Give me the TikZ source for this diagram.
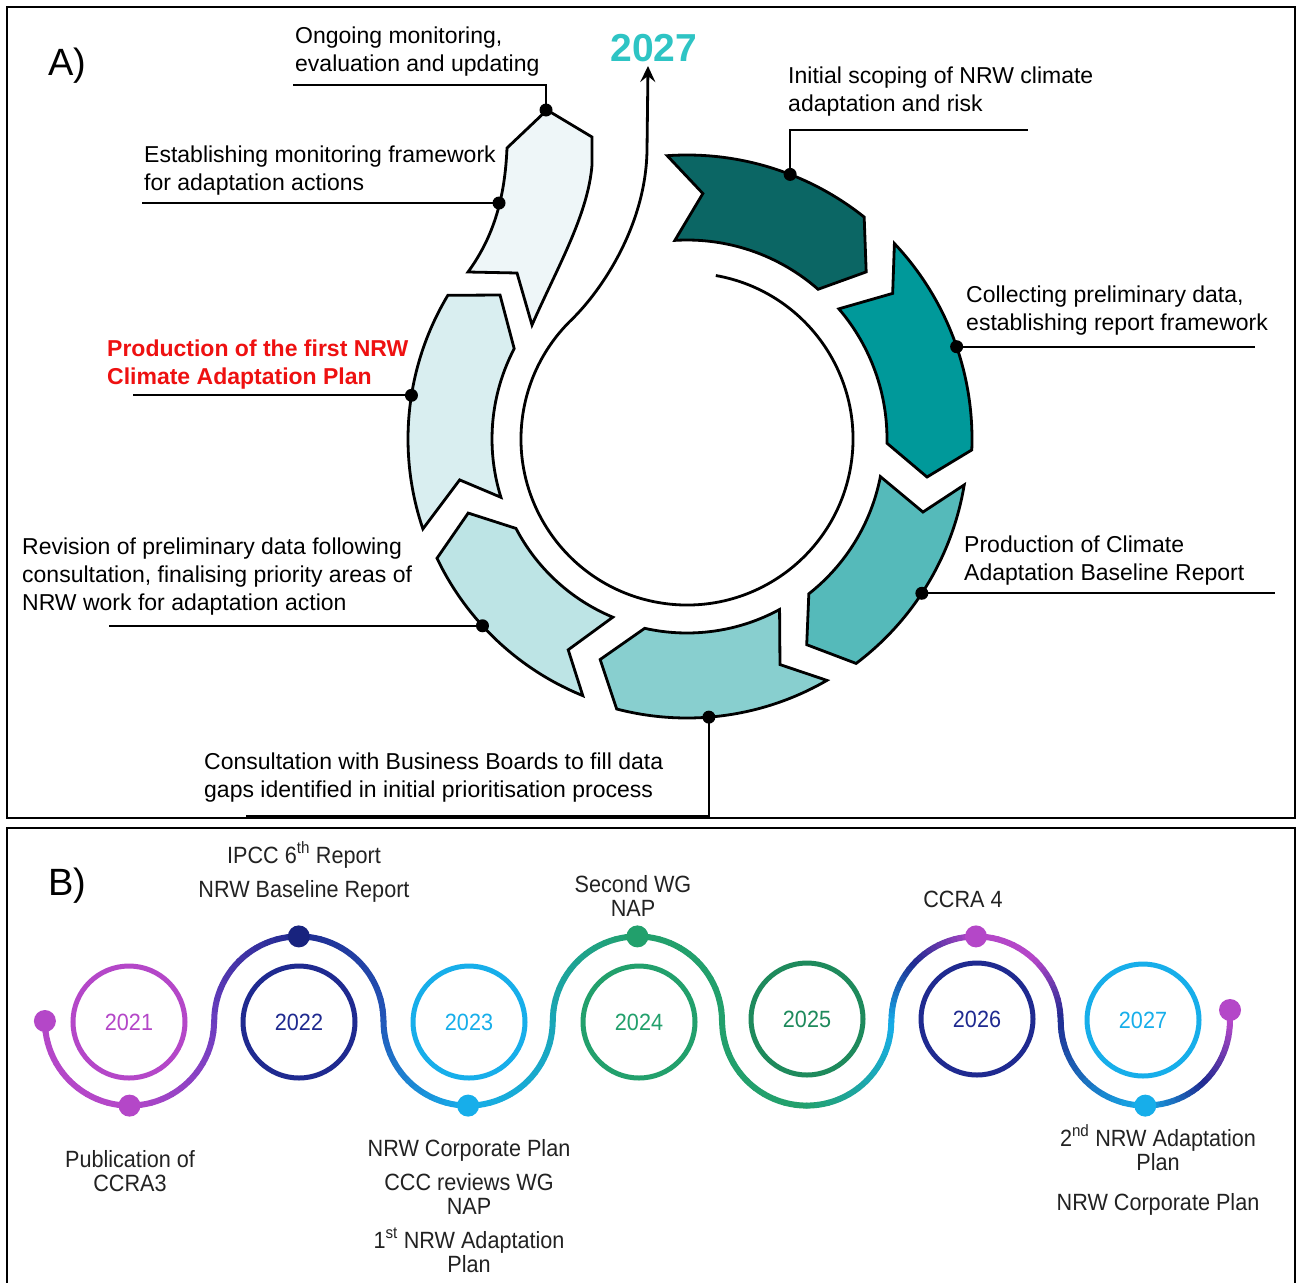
\documentclass[tikz,border=0pt]{standalone}
\usepackage{fontspec}
\setmainfont{Liberation Sans}
\newfontfamily\narrowfont[FakeStretch=0.92]{Liberation Sans}
\usetikzlibrary{arrows.meta,calc}
\definecolor{segA}{HTML}{0B6664}
\definecolor{segB}{HTML}{00999A}
\definecolor{segC}{HTML}{55BABA}
\definecolor{segD}{HTML}{88CFCF}
\definecolor{segE}{HTML}{BDE4E5}
\definecolor{segF}{HTML}{D9EEF0}
\definecolor{segG}{HTML}{EEF6F8}
\definecolor{teal27}{HTML}{2EC4C4}
\definecolor{redlab}{HTML}{EE1111}
\definecolor{wpurple}{HTML}{B447C8}
\definecolor{wviolet}{HTML}{6C3EC0}
\definecolor{wnavy}{HTML}{1F2A90}
\definecolor{wdnavy}{HTML}{18237E}
\definecolor{wblue}{HTML}{2356B8}
\definecolor{wcyan}{HTML}{17AEEA}
\definecolor{wteal}{HTML}{1AA6B8}
\definecolor{wgreen}{HTML}{22A06C}
\definecolor{wdgreen}{HTML}{1E8A5C}
\definecolor{btextcol}{HTML}{222222}
\tikzset{
 segshape/.style={draw=black, line width=2.8pt, line join=miter},
 leader/.style={draw=black, line width=1.8pt},
 ldot/.style={circle, fill=black, inner sep=0pt, minimum size=13pt},
 atext/.style={font=\fontsize{23}{28}\selectfont, align=left, inner sep=0pt, anchor=base west},
 btext/.style={font=\narrowfont\fontsize{23.5}{24}\selectfont, text=btextcol, align=center, inner sep=0pt, anchor=base},
 wavepath/.style={line width=6pt, line cap=round},
 wdot/.style={circle, inner sep=0pt, minimum size=22pt},
 yearring/.style={circle, draw, line width=5pt, minimum size=112pt, inner sep=0pt, font=\narrowfont\fontsize{23.5}{24}\selectfont},
 frame/.style={draw=black, line width=2pt},
}
\newcommand\wavearc[5]{%
  \foreach \k in {1,...,12}{%
    \pgfmathsetmacro\ta{#2+(#3-#2)*(\k-1)/12}%
    \pgfmathsetmacro\tb{#2+(#3-#2)*\k/12}%
    \pgfmathtruncatemacro\pc{100-(\k-0.5)*100/12}%
    \draw[wavepath,draw=#4!\pc!#5] ([shift={(#1,1021)}]\ta:84.6) arc[start angle=\ta, end angle=\tb, radius=84.6];
  }}
\begin{document}
\begin{tikzpicture}[x=1pt,y=-1pt]
\useasboundingbox (0,0) rectangle (1297,1282);
\fill[white] (0,0) rectangle (1297,1282);
% frames
\draw[frame] (7,7) rectangle (1295,818);
\draw[frame] (7,1290) -- (7,828) -- (1295,828) -- (1295,1290);

% ---------- Panel A ----------
\coordinate (C) at (687,439);
\path[segshape, fill=segA] ($(C)+(-94:284)$) -- ($(C)+(-86.3:246)$) -- ($(C)+(-93.5:199)$)
  arc[start angle=-93.5, end angle=-48.8, radius=199] -- ($(C)+(-43:245)$) -- ($(C)+(-51.4:284)$)
  arc[start angle=-51.4, end angle=-94, radius=284] -- cycle;
\path[segshape, fill=segB] ($(C)+(-43.3:285)$) -- ($(C)+(-35.3:252)$) -- ($(C)+(-40.6:200)$)
  arc[start angle=-40.6, end angle=1.2, radius=200] -- ($(C)+(9:243)$) -- ($(C)+(2.2:285)$)
  arc[start angle=2.2, end angle=-43.3, radius=285] -- cycle;
\path[segshape, fill=segC] ($(C)+(9.4:281)$) -- ($(C)+(17.2:247)$) -- ($(C)+(11:197)$)
  arc[start angle=11, end angle=51.8, radius=197] -- ($(C)+(59.8:238)$) -- ($(C)+(53:281)$)
  arc[start angle=53, end angle=9.4, radius=281] -- cycle;
\path[segshape, fill=segD] ($(C)+(59.9:279)$) -- ($(C)+(67.6:244)$) -- ($(C)+(61.5:194)$)
  arc[start angle=61.5, end angle=102.6, radius=194] -- ($(C)+(111.5:237)$) -- ($(C)+(104.6:279)$)
  arc[start angle=104.6, end angle=59.9, radius=279] -- cycle;
\path[segshape, fill=segE] ($(C)+(112.1:277)$) -- ($(C)+(119.4:242)$) -- ($(C)+(112.6:193)$)
  arc[start angle=112.6, end angle=152.4, radius=193] -- ($(C)+(161.3:231)$) -- ($(C)+(154.5:277)$)
  arc[start angle=154.5, end angle=112.1, radius=277] -- cycle;
\path[segshape, fill=segF] ($(C)+(161.2:279)$) -- ($(C)+(169.8:231)$) -- ($(C)+(162.6:195)$)
  arc[start angle=162.6, end angle=207.6, radius=195] -- ($(C)+(217.6:236)$) -- ($(C)+(211:279)$)
  arc[start angle=211, end angle=161.2, radius=279] -- cycle;
\path[segshape, fill=segG] (468,272) -- (517,273) -- (532,325)
  .. controls (557,268) and (588,215) .. (592,165) -- (592,137) -- (547,110) -- (507,148)
  .. controls (505,195) and (495,235) .. (468,272) -- cycle;

% inner circle turning into the 2027 arrow
\draw[line width=2.8pt, -{Stealth[length=16pt,width=15pt,inset=6pt]}]
  ($(C)+(-80:166)$) arc[start angle=-80, end angle=226, radius=166]
  .. controls (602,290) and (646,225) .. (647,150) -- (648,66);

\node[font=\bfseries\fontsize{39}{40}\selectfont, text=teal27, anchor=base, inner sep=0pt] (y27) at (654,61) {2027};
\node[font=\fontsize{38}{40}\selectfont, anchor=base west, inner sep=0pt] (lA) at (48,75) {A)};

% label texts (anchor = baseline of the last line)
\node[atext] (t8) at (295,71) {Ongoing monitoring,\\evaluation and updating};
\node[atext] (t7) at (144,190) {Establishing monitoring framework\\for adaptation actions};
\node[atext, font=\bfseries\fontsize{23}{28}\selectfont, text=redlab] (t6) at (107,384) {Production of the first NRW\\Climate Adaptation Plan};
\node[atext] (t5) at (22,610) {Revision of preliminary data following\\consultation, finalising priority areas of\\NRW work for adaptation action};
\node[atext] (t4) at (204,797) {Consultation with Business Boards to fill data\\gaps identified in initial prioritisation process};
\node[atext] (t3) at (964,580) {Production of Climate\\Adaptation Baseline Report};
\node[atext] (t2) at (966,330) {Collecting preliminary data,\\establishing report framework};
\node[atext] (t1) at (788,111) {Initial scoping of NRW climate\\adaptation and risk};

% leader anchors
\coordinate (d1) at ($(C)+(-68.7:284)$);
\coordinate (d2) at ($(C)+(-18.9:285)$);
\coordinate (d3) at ($(C)+(33.3:281)$);
\coordinate (d4) at ($(C)+(85.5:279)$);
\coordinate (d5) at ($(C)+(137.6:277)$);
\coordinate (d6) at ($(C)+(189:279)$);
\coordinate (d7) at (499,203);
\coordinate (d8) at (546,110);
\coordinate (e1) at (1028,130);
\coordinate (e2) at (1255,346);
\coordinate (e3) at (1275,594);
\coordinate (e4) at (246,816);
\coordinate (e5) at (109,626);
\coordinate (e6) at (133,395);
\coordinate (e7) at (142,203);
\coordinate (e8) at (293,85);

\draw[leader] (d1) |- (e1);
\draw[leader] (d2) -- (d2 -| e2);
\draw[leader] (d3) -- (d3 -| e3);
\draw[leader] (d4) |- (e4);
\draw[leader] (d5) -- (d5 -| e5);
\draw[leader] (d6) -- (d6 -| e6);
\draw[leader] (d7) -- (e7);
\draw[leader] (d8) |- (e8);
\foreach \i in {1,...,8}{\node[ldot] (p\i) at (d\i) {};}

% ---------- Panel B ----------
\node[font=\fontsize{38}{40}\selectfont, anchor=base west, inner sep=0pt] (lB) at (48,895) {B)};

\wavearc{129.5}{180}{90}{wpurple}{wpurple}
\wavearc{129.5}{90}{0}{wpurple}{wviolet}
\wavearc{298.8}{180}{270}{wviolet}{wnavy}
\wavearc{298.8}{270}{360}{wnavy}{wblue}
\wavearc{468.1}{180}{90}{wblue}{wcyan}
\wavearc{468.1}{90}{0}{wcyan}{wteal}
\wavearc{637.4}{180}{270}{wteal}{wgreen}
\wavearc{637.4}{270}{360}{wgreen}{wgreen}
\wavearc{806.7}{180}{90}{wgreen}{wgreen}
\wavearc{806.7}{90}{0}{wgreen}{wcyan}
\wavearc{976}{180}{225}{wcyan}{wnavy}
\wavearc{976}{225}{270}{wnavy}{wpurple}
\wavearc{976}{270}{315}{wpurple}{wpurple}
\wavearc{976}{315}{360}{wpurple}{wnavy}
\wavearc{1145.3}{180}{90}{wnavy}{wcyan}
\wavearc{1145.3}{90}{45}{wcyan}{wnavy}
\wavearc{1145.3}{45}{0}{wnavy}{wpurple}
\draw[wavepath, wpurple] (1229.9,1021) -- (1230,1010);

\node[wdot, fill=wpurple] (w0) at (44.9,1021) {};
\node[wdot, fill=wpurple] (w1) at (129.5,1105.6) {};
\node[wdot, fill=wdnavy] (w2) at (298.8,936.4) {};
\node[wdot, fill=wcyan] (w3) at (468.1,1105.6) {};
\node[wdot, fill=wgreen] (w4) at (637.4,936.4) {};
\node[wdot, fill=wpurple] (w6) at (976,936.4) {};
\node[wdot, fill=wcyan] (w7) at (1145.3,1105.6) {};
\node[wdot, fill=wpurple] (w8) at (1230,1010) {};

\node[yearring, draw=wpurple, text=wpurple] (r21) at (129,1022) {2021};
\node[yearring, draw=wnavy, text=wnavy] (r22) at (299,1022) {2022};
\node[yearring, draw=wcyan, text=wcyan] (r23) at (469,1022) {2023};
\node[yearring, draw=wgreen, text=wgreen] (r24) at (639,1022) {2024};
\node[yearring, draw=wdgreen, text=wdgreen] (r25) at (807,1019) {2025};
\node[yearring, draw=wnavy, text=wnavy] (r26) at (977,1019) {2026};
\node[yearring, draw=wcyan, text=wcyan] (r27) at (1143,1020) {2027};

\node[btext] (b1) at (304,863) {IPCC 6\textsuperscript{th} Report};
\node[btext] (b2) at (304,897) {NRW Baseline Report};
\node[btext] (b3) at (130,1191) {Publication of\\CCRA3};
\node[btext] (b4) at (469,1156) {NRW Corporate Plan};
\node[btext] (b5) at (469,1214) {CCC reviews WG\\NAP};
\node[btext] (b6) at (469,1272) {1\textsuperscript{st} NRW Adaptation\\Plan};
\node[btext] (b7) at (633,916) {Second WG\\NAP};
\node[btext] (b8) at (963,907) {CCRA 4};
\node[btext] (b9) at (1158,1170) {2\textsuperscript{nd} NRW Adaptation\\Plan};
\node[btext] (b10) at (1158,1210) {NRW Corporate Plan};
\end{tikzpicture}
\end{document}
